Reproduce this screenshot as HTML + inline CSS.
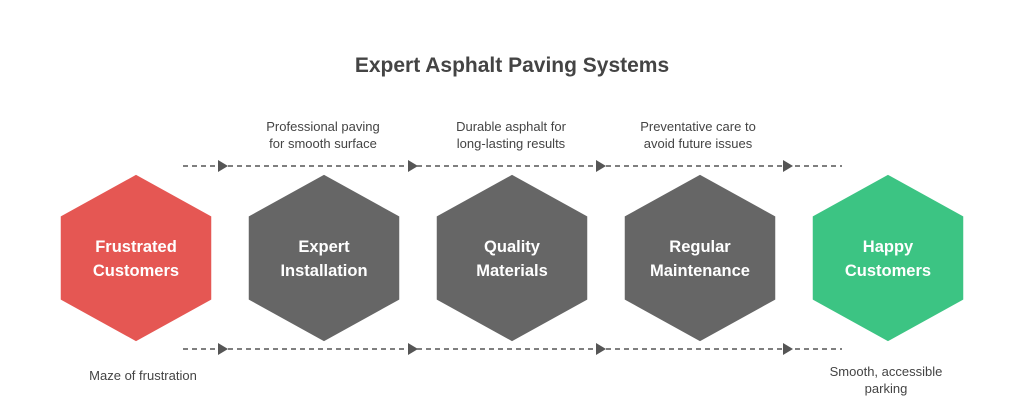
<!DOCTYPE html>
<html><head><style>
body{margin:0;background:#fff;}
svg{display:block;font-family:"Liberation Sans",sans-serif;}
</style></head><body>
<svg width="1024" height="414" viewBox="0 0 1024 414">
<defs>
<polygon id="h" points="0,-84 76,-42 76,42 0,84 -76,42 -76,-42"/>
</defs>
<text x="512" y="72" text-anchor="middle" font-size="21" font-weight="bold" fill="#444">Expert Asphalt Paving Systems</text>
<g stroke="#555" stroke-width="1.5" stroke-dasharray="5,4" fill="none">
<line x1="183" y1="166" x2="842" y2="166"/>
<line x1="183" y1="349" x2="842" y2="349"/>
</g>
<g fill="#555">
<polygon points="218,160 228,166 218,172"/><polygon points="408,160 418,166 408,172"/><polygon points="596,160 606,166 596,172"/><polygon points="783,160 793,166 783,172"/>
<polygon points="218,343 228,349 218,355"/><polygon points="408,343 418,349 408,355"/><polygon points="596,343 606,349 596,355"/><polygon points="783,343 793,349 783,355"/>
</g>
<g stroke="#fff" stroke-width="1.5">
<use href="#h" x="136" y="258" fill="#E55753"/>
<use href="#h" x="324" y="258" fill="#666"/>
<use href="#h" x="512" y="258" fill="#666"/>
<use href="#h" x="700" y="258" fill="#666"/>
<use href="#h" x="888" y="258" fill="#3CC483"/>
</g>
<g fill="#fff" font-size="16.5" font-weight="bold" text-anchor="middle">
<text x="136" y="252">Frustrated</text><text x="136" y="276">Customers</text>
<text x="324" y="252">Expert</text><text x="324" y="276">Installation</text>
<text x="512" y="252">Quality</text><text x="512" y="276">Materials</text>
<text x="700" y="252">Regular</text><text x="700" y="276">Maintenance</text>
<text x="888" y="252">Happy</text><text x="888" y="276">Customers</text>
</g>
<g fill="#444" font-size="13" text-anchor="middle">
<text x="323" y="131">Professional paving</text><text x="323" y="148">for smooth surface</text>
<text x="511" y="131">Durable asphalt for</text><text x="511" y="148">long-lasting results</text>
<text x="698" y="131">Preventative care to</text><text x="698" y="148">avoid future issues</text>
<text x="143" y="380">Maze of frustration</text>
<text x="886" y="376">Smooth, accessible</text><text x="886" y="393">parking</text>
</g>
</svg>
</body></html>
